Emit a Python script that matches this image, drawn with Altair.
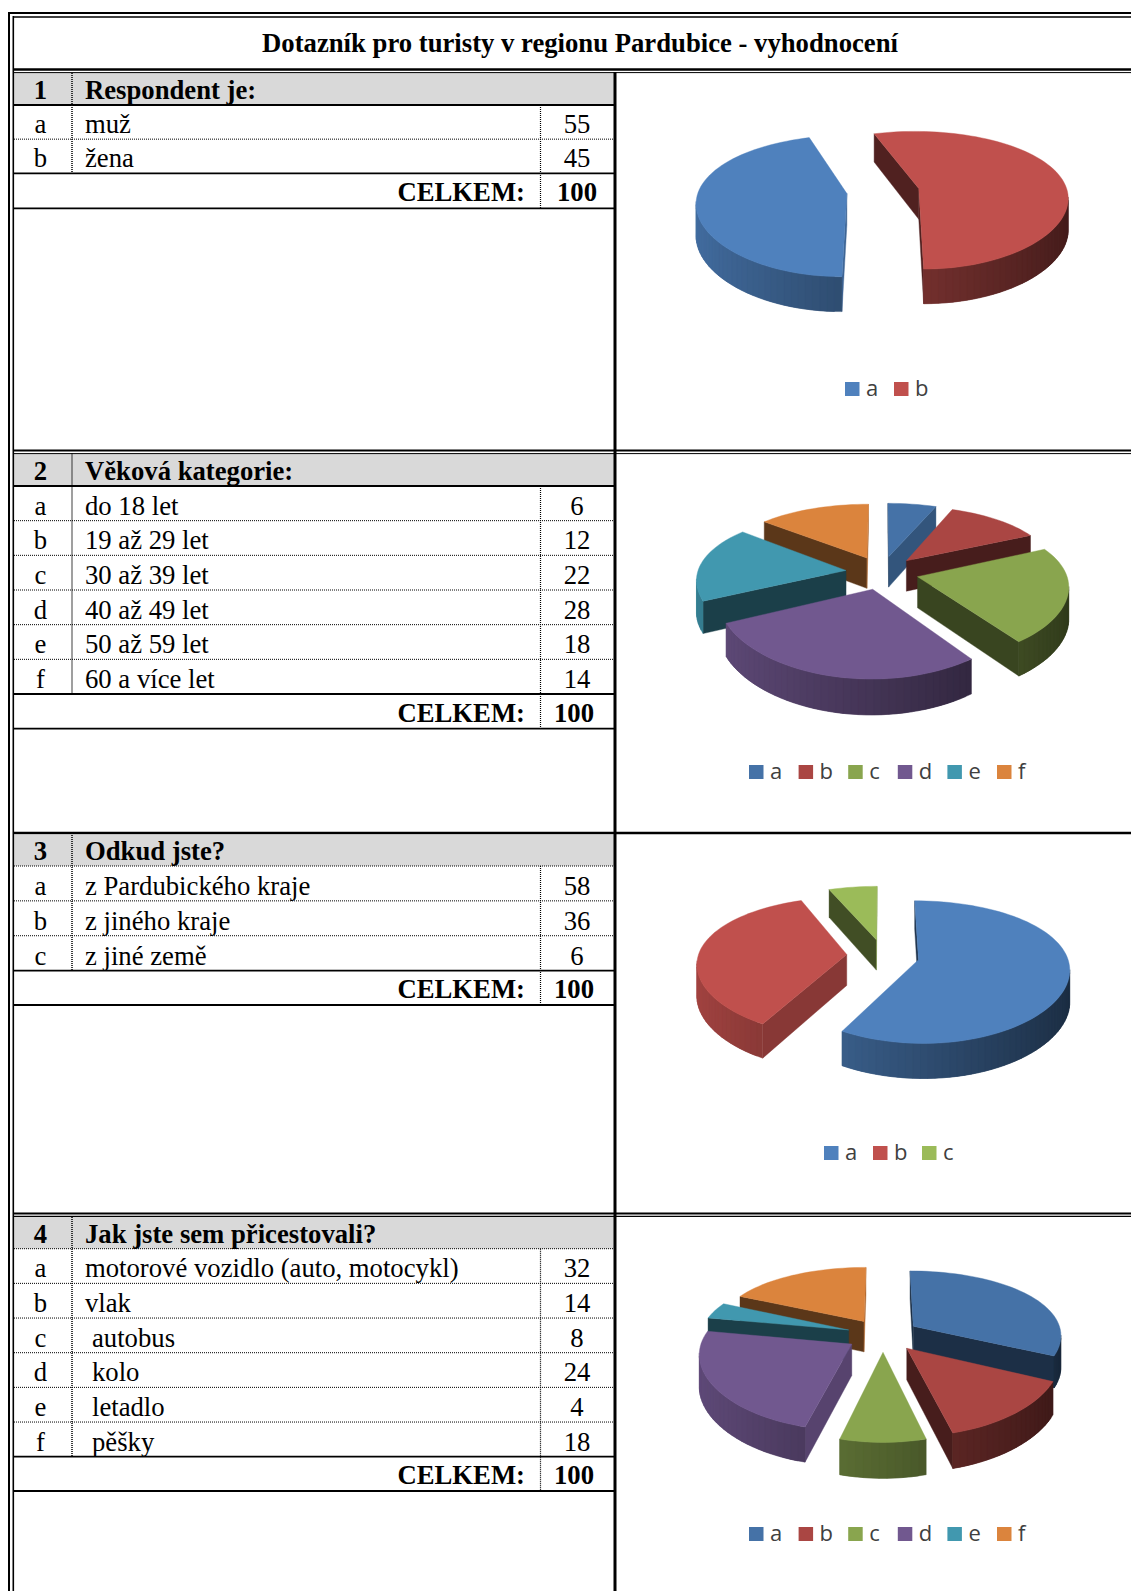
import math
import altair as alt
import pandas as pd

TITLE = "Dotazník pro turisty v regionu Pardubice - vyhodnocení"
TOTAL_LABEL = "CELKEM:"
LETTERS = ["a", "b", "c", "d", "e", "f"]

q_titles = ["Respondent je:", "Věková kategorie:", "Odkud jste?", "Jak jste sem přicestovali?"]
q1_labels = ["muž", "žena"]
q1_values = [55, 45]
q2_labels = ["do 18 let", "19 až 29 let", "30 až 39 let", "40 až 49 let", "50 až 59 let", "60 a více let"]
q2_values = [6, 12, 22, 28, 18, 14]
q3_labels = ["z Pardubického kraje", "z jiného kraje", "z jiné země"]
q3_values = [58, 36, 6]
q4_labels = ["motorové vozidlo (auto, motocykl)", "vlak", " autobus", " kolo", " letadlo", " pěšky"]
q4_values = [32, 14, 8, 24, 4, 18]
totals = [100, 100, 100, 100]

# Slice sizes as drawn in the pictures (first pie shows a the smaller one)
pie1_values = [45, 55]
pie2_values = [6, 12, 22, 28, 18, 14]
pie3_values = [58, 36, 6]
pie4_values = [32, 14, 8, 24, 4, 18]

office = ["#4F81BD", "#C0504D", "#9BBB59"]
vivid = ["#4572A7", "#AA4643", "#89A54E", "#71588F", "#4198AF", "#DB843D"]

# ---------------- layout (page pixels) ----------------
W, H = 1131, 1591
XL, XC1, XC2, XD = 14, 72, 540.5, 615
sections = [
    dict(top=73, bot=105, last=173.3, tot=208.3, labels=q1_labels, values=q1_values, solid=True, vx=577),
    dict(top=453.5, bot=486, last=694, tot=728.7, labels=q2_labels, values=q2_values, solid=True, vx=577),
    dict(top=835, bot=866, last=970.6, tot=1005, labels=q3_labels, values=q3_values, solid=False, vx=577),
    dict(top=1217, bot=1248.7, last=1456.7, tot=1491, labels=q4_labels, values=q4_values, solid=False, vx=577),
]
total_x = [577, 574, 574, 574]
pies = [
    dict(vals=pie1_values, cols=office, cx=883, cy=191, start=180, lx=845, ly=382, step=49),
    dict(vals=pie2_values, cols=vivid, cx=882, cy=572.5, start=0, lx=749, ly=765, step=49.6),
    dict(vals=pie3_values, cols=office, cx=883, cy=955.5, start=0, lx=824, ly=1146, step=49),
    dict(vals=pie4_values, cols=vivid, cx=883, cy=1335, start=0, lx=749, ly=1527, step=49.6),
]
R, K, P, PX, EXPL, WALL = 148.5, 0.456, 0.173, 0.12, 0.245, 31

# ---------------- table pieces ----------------
bands, solid, dotted, reg_c, reg_l, bold_c, bold_l, bold_r = [], [], [], [], [], [], [], []
def rule(store, x, x2, y, y2, w=1.5):
    store.append(dict(x=x, x2=x2, y=y, y2=y2, w=w))

# outer frame, separators
rule(solid, 9, 9, 12, H, 2); rule(solid, 13.3, 13.3, 16, H, 1.6)
rule(solid, 8, W, 13, 13, 2); rule(solid, 13, W, 17, 17, 1.4)
rule(solid, 13, W, 69.5, 69.5, 2.4); rule(solid, 13, W, 72.6, 72.6, 1)
rule(solid, 13, W, 450.5, 450.5, 2); rule(solid, 13, W, 453.6, 453.6, 1)
rule(solid, 13, W, 833, 833, 2.6)
rule(solid, 13, W, 1213.5, 1213.5, 2); rule(solid, 13, W, 1216.4, 1216.4, 1.2)
rule(solid, XD, XD, 72, H, 3)
bold_c.append(dict(x=580, y=51.5, t=TITLE))

for i, s in enumerate(sections):
    n = len(s["labels"])
    stp = (s["last"] - s["bot"]) / n
    bands.append(dict(x=XL, x2=XD - 1, y=s["top"], y2=s["bot"]))
    if s["solid"]:
        rule(solid, XL, XD, s["bot"], s["bot"], 2)
    else:
        rule(dotted, XL, XD, s["bot"], s["bot"], 1)
    rule(solid, XL, XD, s["last"], s["last"], 1.8)
    rule(solid, XL, XD, s["tot"], s["tot"], 1.8)
    rule(dotted, XC1, XC1, s["top"], s["last"], 1.5)
    rule(dotted, XC2, XC2, s["bot"], s["tot"], 1.2)
    bold_c.append(dict(x=40.5, y=s["bot"] - 6, t=str(i + 1)))
    bold_l.append(dict(x=85, y=s["bot"] - 6, t=q_titles[i]))
    for j in range(n):
        yb = s["bot"] + stp * (j + 1)
        if j < n - 1:
            rule(dotted, XL, XD, yb, yb, 1)
        lab = s["labels"][j]
        reg_c.append(dict(x=40.5, y=yb - 6, t=LETTERS[j]))
        reg_l.append(dict(x=92 if lab.startswith(" ") else 85, y=yb - 6, t=lab.strip()))
        reg_c.append(dict(x=s["vx"], y=yb - 6, t=str(s["values"][j])))
    bold_c.append(dict(x=total_x[i], y=s["tot"] - 7, t=str(totals[i])))
    bold_r.append(dict(x=525, y=s["tot"] - 7, t=TOTAL_LABEL))

# ---------------- 3-D pies from the values ----------------
def shade(hex_col, f):
    r, g, b = [int(hex_col[k:k + 2], 16) for k in (1, 3, 5)]
    return "#%02x%02x%02x" % (int(r * f), int(g * f), int(b * f))

def pie_features(p):
    feats = []
    cx, cy = p["cx"], p["cy"]
    def proj(x, y):
        s = 1 / (1 + P * y)
        sx = 1 / (1 + PX * y)
        return cx + R * x * sx, cy - R * K * y * s, WALL * s ** 0.6
    tot = sum(p["vals"])
    slices, a = [], p["start"]
    for v, c in zip(p["vals"], p["cols"]):
        t0, t1 = a, a + 360 * v / tot
        a = t1
        slices.append((t0, t1, c))
    slices.sort(key=lambda z: -math.cos(math.radians((z[0] + z[1]) / 2)))
    def add(poly, col):
        feats.append({"type": "Feature", "properties": {"fill": col},
                      "geometry": {"type": "Polygon", "coordinates": [poly + [poly[0]]]}})
    for t0, t1, c in slices:
        mid = math.radians((t0 + t1) / 2)
        ox, oy = EXPL * math.sin(mid), EXPL * math.cos(mid)
        n = max(6, int((t1 - t0) / 2.5))
        rim = []
        for i in range(n + 1):
            th = math.radians(t0 + (t1 - t0) * i / n)
            rim.append(proj(ox + math.sin(th), oy + math.cos(th)))
        A = proj(ox, oy)
        M = proj(ox + 0.5 * math.sin(mid), oy + 0.5 * math.cos(mid))
        # radial walls
        for Pt, phi in ((rim[0], t0 - 90), (rim[-1], t1 + 90)):
            cross = (Pt[0] - A[0]) * (M[1] - A[1]) - (Pt[1] - A[1]) * (M[0] - A[0])
            if cross * (Pt[0] - A[0]) < 0:
                nx = math.sin(math.radians(phi))
                f = 0.42 if nx < 0.45 else 0.42 + (nx - 0.45) * 0.68
                add([[A[0], A[1]], [Pt[0], Pt[1]], [Pt[0], Pt[1] + Pt[2]], [A[0], A[1] + A[2]]], shade(c, f))
        # outer wall: overlapping strips so no seams show; a coarse shade step per strip
        for i in range(n):
            q0, q1 = rim[i], rim[i + 1]
            q2 = rim[min(i + 2, n)]
            if q1[0] < q0[0]:
                th = math.radians(t0 + (t1 - t0) * (i + 0.5) / n)
                f = 0.60 - 0.25 * math.sin(th)
                add([[q0[0], q0[1]], [q1[0], q1[1]], [q2[0], q2[1]],
                     [q2[0], q2[1] + q2[2]], [q1[0], q1[1] + q1[2]], [q0[0], q0[1] + q0[2]]], shade(c, f))
        # top face
        add([[A[0], A[1]]] + [[q[0], q[1]] for q in rim], c)
    return feats

features = []
leg_rect, leg_text = [], []
for p in pies:
    features += pie_features(p)
    for i, c in enumerate(p["cols"][:len(p["vals"])]):
        x0 = p["lx"] + i * p["step"]
        leg_rect.append(dict(x=x0, x2=x0 + 14.5, y=p["ly"], y2=p["ly"] + 14, c=c))
        leg_text.append(dict(x=x0 + 21, y=p["ly"] + 14, t=LETTERS[i]))
# shift to plot coordinates
for f in features:
    f["geometry"]["coordinates"] = [[[x - 8, y - 8] for x, y in f["geometry"]["coordinates"][0]]]

# ---------------- chart ----------------
xs = alt.Scale(domain=[8, W], range=[0, W - 8], nice=False, zero=False)
ys = alt.Scale(domain=[8, H], range=[0, H - 8], nice=False, zero=False)
X = alt.X("x:Q", scale=xs, axis=None)
Y = alt.Y("y:Q", scale=ys, axis=None)

def rects(rows, color=None):
    base = alt.Chart(pd.DataFrame(rows))
    if color:
        return base.mark_rect(color=color).encode(X, Y, x2="x2:Q", y2="y2:Q")
    return base.mark_rect().encode(X, Y, x2="x2:Q", y2="y2:Q", color=alt.Color("c:N", scale=None))

def rules(rows, **kw):
    return alt.Chart(pd.DataFrame(rows)).mark_rule(color="#000000", **kw).encode(
        X, Y, x2="x2:Q", y2="y2:Q", size=alt.Size("w:Q", scale=None))

def texts(rows, align, bold, font="Liberation Serif", size=26.7, color="#000000"):
    return alt.Chart(pd.DataFrame(rows)).mark_text(
        align=align, baseline="alphabetic", font=font, fontSize=size,
        fontWeight="bold" if bold else "normal", color=color
    ).encode(X, Y, text="t:N")

shapes = alt.Chart(alt.Data(values=features)).mark_geoshape(strokeWidth=0.4).encode(
    fill=alt.Fill("properties.fill:N", scale=None),
    stroke=alt.Stroke("properties.fill:N", scale=None),
).project(type="identity", scale=1, translate=[0, 0])

chart = alt.layer(
    rects(bands, "#D9D9D9"),
    rules(solid),
    rules(dotted, strokeDash=[1, 1]),
    texts(reg_c, "center", False),
    texts(reg_l, "left", False),
    texts(bold_c, "center", True),
    texts(bold_l, "left", True),
    texts(bold_r, "right", True),
    shapes,
    rects(leg_rect),
    texts(leg_text, "left", False, font="Open Sans", size=22, color="#404040"),
).properties(width=W - 8, height=H - 8, padding=0,
             autosize=alt.AutoSizeParams(type="none")).configure_view(stroke=None)

chart.save("out.html", embed_options={"renderer": "svg", "actions": False})
